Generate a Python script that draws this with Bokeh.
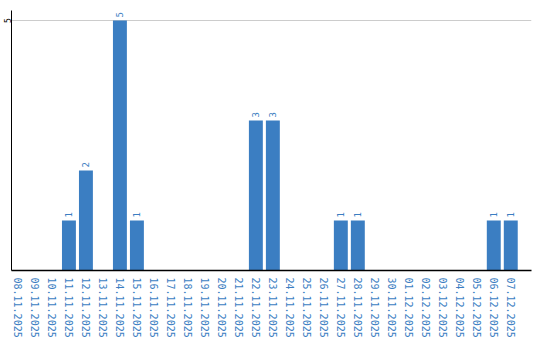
import math
from bokeh.plotting import figure
from bokeh.models import ColumnDataSource, FixedTicker, Range1d
from bokeh.core.properties import value
from bokeh.embed import file_html
from bokeh.resources import INLINE

dates = ["08.11.2025", "09.11.2025", "10.11.2025", "11.11.2025", "12.11.2025",
         "13.11.2025", "14.11.2025", "15.11.2025", "16.11.2025", "17.11.2025",
         "18.11.2025", "19.11.2025", "20.11.2025", "21.11.2025", "22.11.2025",
         "23.11.2025", "24.11.2025", "25.11.2025", "26.11.2025", "27.11.2025",
         "28.11.2025", "29.11.2025", "30.11.2025", "01.12.2025", "02.12.2025",
         "03.12.2025", "04.12.2025", "05.12.2025", "06.12.2025", "07.12.2025"]
counts = [0, 0, 0, 1, 2, 0, 5, 1, 0, 0, 0, 0, 0, 0, 3, 3, 0, 0, 0, 1, 1,
          0, 0, 0, 0, 0, 0, 0, 1, 1]
y_ticks = [5]

BLUE = "#3b7ec2"
FONT = "DejaVu Sans Mono"

idx = list(range(len(dates)))
src = ColumnDataSource(dict(x=idx, y=counts))
lab_x = [i for i, c in zip(idx, counts) if c > 0]
lab_y = [c for c in counts if c > 0]
lab_src = ColumnDataSource(dict(x=lab_x, y=lab_y, t=[str(c) for c in lab_y]))

p = figure(width=540, height=340, output_backend="svg", toolbar_location=None,
           x_range=Range1d(-0.38, len(dates) + 0.22),
           y_range=Range1d(0, 5.2),
           min_border_left=11, min_border_right=9, min_border_top=10,
           min_border_bottom=70)
p.outline_line_color = None
p.background_fill_color = "white"
p.border_fill_color = "white"

p.vbar(x="x", top="y", width=0.82, source=src, color=BLUE, line_color=None)
p.text(x="x", y="y", text="t", source=lab_src, angle=math.pi / 2,
       text_align="left", text_baseline="middle", y_offset=-3,
       text_color=BLUE, text_font=value(FONT), text_font_size="9px")

p.xgrid.grid_line_color = None
p.ygrid.ticker = FixedTicker(ticks=y_ticks)
p.ygrid.grid_line_color = "#cccccc"
p.ygrid.grid_line_width = 1

p.yaxis.ticker = FixedTicker(ticks=y_ticks)
p.yaxis.major_label_orientation = "vertical"
p.yaxis.major_label_text_font = FONT
p.yaxis.major_label_text_font_size = "8px"
p.yaxis.major_label_text_color = "black"
p.yaxis.major_tick_out = 0
p.yaxis.major_tick_in = 0
p.yaxis.minor_tick_out = 0
p.yaxis.minor_tick_in = 0
p.yaxis.major_label_standoff = 1
p.yaxis.axis_line_color = "black"
p.yaxis.axis_line_width = 1

p.xaxis.ticker = FixedTicker(ticks=idx)
p.xaxis.major_label_overrides = {i: d for i, d in zip(idx, dates)}
p.xaxis.major_label_orientation = "vertical"
p.xaxis.major_label_text_font = FONT
p.xaxis.major_label_text_font_size = "10px"
p.xaxis.major_label_text_color = BLUE
p.xaxis.major_tick_out = 0
p.xaxis.major_tick_in = 0
p.xaxis.minor_tick_out = 0
p.xaxis.minor_tick_in = 0
p.xaxis.major_label_standoff = 7
p.xaxis.axis_line_color = "black"
p.xaxis.axis_line_width = 1.5

open("out.html", "w").write(file_html(p, INLINE))
